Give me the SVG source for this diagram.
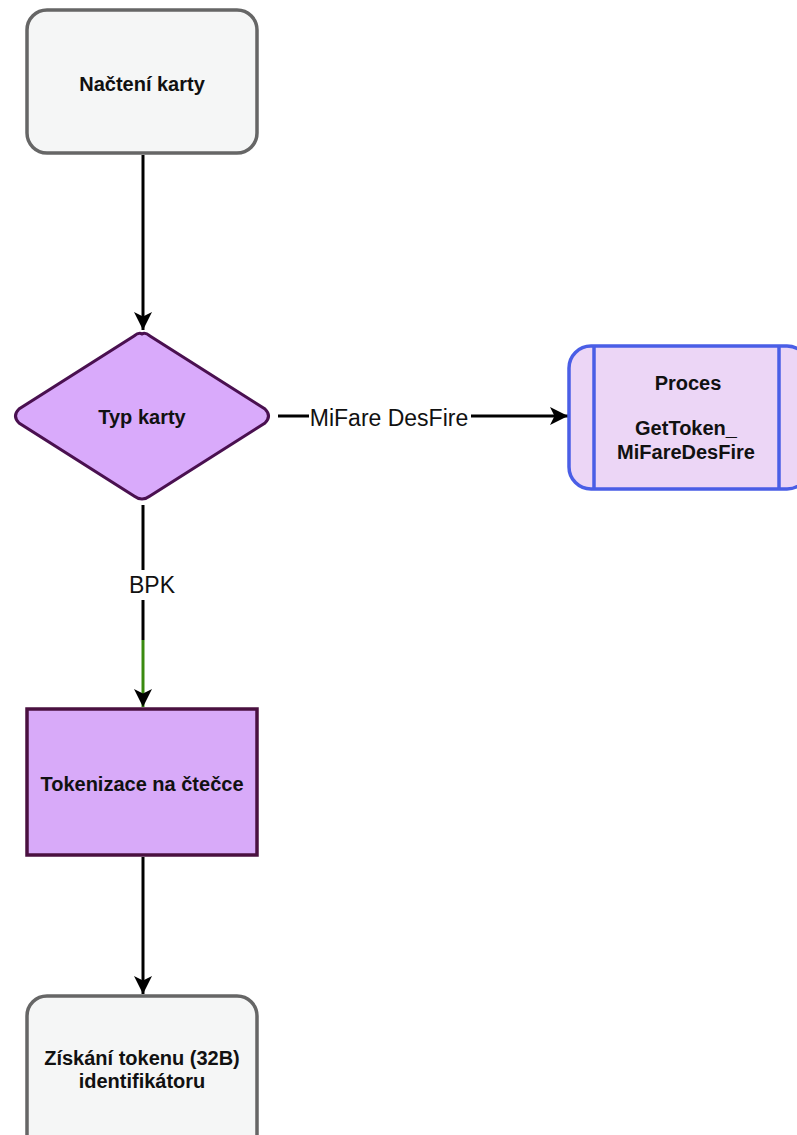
<svg xmlns="http://www.w3.org/2000/svg" width="797" height="1135" viewBox="0 0 797 1135">
<defs>
<marker id="ah" markerWidth="18" markerHeight="18" refX="16" refY="8" orient="auto" markerUnits="userSpaceOnUse" viewBox="0 0 16 16">
<path d="M0,0 L16,8 L0,16 L4,8 Z" fill="#000"/>
</marker>
<style>
.t{font-family:"Liberation Sans",Arial,sans-serif;font-weight:bold;font-size:20px;fill:#111;text-anchor:middle}
.lbl{font-family:"Liberation Sans",Arial,sans-serif;font-size:23px;fill:#111;text-anchor:middle}
.c{stroke:#000;stroke-width:3;fill:none}
.grey{fill:#f5f6f6;stroke:#666;stroke-width:3.5}
</style>
</defs>
<rect width="797" height="1135" fill="#fff"/>
<g id="connectors">
<path class="c" d="M143,155 L143,330" marker-end="url(#ah)"/>
<path class="c" d="M278,416 L568,416" marker-end="url(#ah)"/>
<path class="c" d="M143,505 L143,640"/>
<path d="M143,640 L143,707" stroke="#3a8a10" stroke-width="3" fill="none" marker-end="url(#ah)"/>
<path class="c" d="M143,857 L143,994" marker-end="url(#ah)"/>
<rect x="118" y="570" width="50" height="30" fill="#fff"/>
<text class="lbl" x="152" y="593">BPK</text>
<rect x="309" y="403" width="162" height="28" fill="#fff"/>
<text class="lbl" x="389" y="426">MiFare DesFire</text>
</g>
<g id="nacteni">
<rect class="grey" x="27" y="10" width="230" height="143" rx="20"/>
<text class="t" x="142" y="91">Načtení karty</text>
</g>
<g id="typ">
<path d="M142,334 Q145,332 150,336 L265,409 Q272,416 265,423 L150,496 Q142,502 134,496 L19,423 Q12,416 19,409 L134,336 Q139,332 142,334 Z" fill="#d9aafb" stroke="#4a1050" stroke-width="3"/>
<text class="t" x="142" y="424">Typ karty</text>
</g>
<g id="proces">
<rect x="569" y="346" width="240" height="143" rx="22" fill="#ecd6f6" stroke="#4a5ee6" stroke-width="3.5"/>
<line x1="594" y1="346" x2="594" y2="489" stroke="#4a5ee6" stroke-width="3.5"/>
<line x1="779" y1="346" x2="779" y2="489" stroke="#4a5ee6" stroke-width="3.5"/>
<text class="t" x="688" y="390" font-size="17">Proces</text>
<text class="t" x="686" y="435" font-size="21">GetToken_</text>
<text class="t" x="686" y="459" font-size="21">MiFareDesFire</text>
</g>
<g id="tokenizace">
<rect x="27" y="709" width="230" height="146" fill="#d8aaf9" stroke="#4a1040" stroke-width="3.5"/>
<text class="t" x="142" y="791">Tokenizace na čtečce</text>
</g>
<g id="ziskani">
<rect class="grey" x="27" y="996" width="230" height="160" rx="20"/>
<text class="t" x="142" y="1065">Získání tokenu (32B)</text>
<text class="t" x="142" y="1088">identifikátoru</text>
</g>
</svg>
